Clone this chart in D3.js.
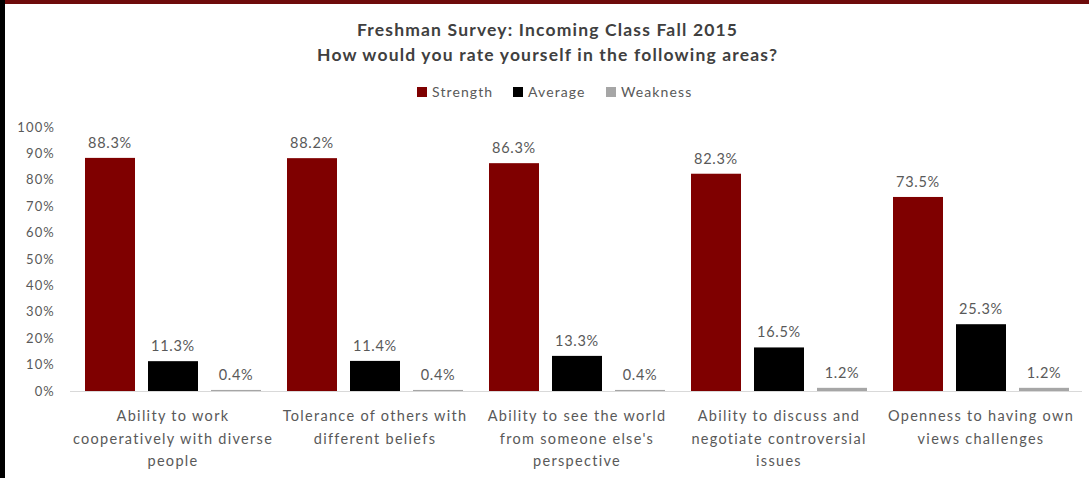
<!DOCTYPE html>
<html>
<head>
<meta charset="utf-8">
<script src="https://cdn.jsdelivr.net/npm/d3@7"></script>
<style>
  html, body { margin: 0; padding: 0; background: #ffffff; }
  svg { display: block; }
  text { font-family: Lato, "Open Sans", sans-serif; }
</style>
</head>
<body>
<svg id="chart" width="1089" height="478"></svg>
<script>
// Survey responses by area, percentage of incoming freshmen
const categories = [
  ["Ability to work", "cooperatively with diverse", "people"],
  ["Tolerance of others with", "different beliefs"],
  ["Ability to see the world", "from someone else's", "perspective"],
  ["Ability to discuss and", "negotiate controversial", "issues"],
  ["Openness to having own", "views challenges"]
];
const seriesNames = ["Strength", "Average", "Weakness"];
const strength = [88.3, 88.2, 86.3, 82.3, 73.5];
const average  = [11.3, 11.4, 13.3, 16.5, 25.3];
const weakness = [0.4, 0.4, 0.4, 1.2, 1.2];
const yTicks = [0, 10, 20, 30, 40, 50, 60, 70, 80, 90, 100];
const colors = ["#7f0000", "#000000", "#a6a6a6"];

const series = [strength, average, weakness];
const svg = d3.select("#chart");
const W = 1089, H = 478;

// frame: dark red top rule, black left rule
svg.append("rect").attr("x", 0).attr("y", 0).attr("width", W).attr("height", 4).attr("fill", "#6e0b0b");
svg.append("rect").attr("x", 0).attr("y", 0).attr("width", 5).attr("height", H).attr("fill", "#000");

// title, two lines, spread to their set widths
const titleLines = [
  { text: "Freshman Survey: Incoming Class Fall 2015", y: 36, w: 380 },
  { text: "How would you rate yourself in the following areas?", y: 61, w: 460 }
];
titleLines.forEach(l => {
  svg.append("text")
    .attr("x", 547).attr("y", l.y).attr("text-anchor", "middle")
    .attr("fill", "#404040").attr("font-size", 17.5).attr("font-weight", 700)
    .attr("textLength", l.w).attr("lengthAdjust", "spacing")
    .text(l.text);
});

// legend
const legendItems = [
  { name: seriesNames[0], x: 417 },
  { name: seriesNames[1], x: 513 },
  { name: seriesNames[2], x: 606 }
];
const lg = svg.append("g");
legendItems.forEach((d, i) => {
  lg.append("rect").attr("x", d.x).attr("y", 87).attr("width", 10).attr("height", 10).attr("fill", colors[i]);
  lg.append("text").attr("x", d.x + 15).attr("y", 97)
    .attr("font-size", 14).attr("letter-spacing", 1.1).attr("fill", "#595959").text(d.name);
});

// scales
const plotLeft = 72, plotRight = 1082;
const x0 = d3.scaleBand().domain(d3.range(categories.length)).range([plotLeft, plotRight]).paddingInner(0).paddingOuter(0);
const x1 = d3.scaleBand().domain(d3.range(seriesNames.length)).range([0, x0.bandwidth()])
  .paddingInner(13 / 63).paddingOuter(13 / 63);
const y = d3.scaleLinear().domain([0, 100]).range([391, 127]);

// y axis labels
const yAxis = d3.axisLeft(y).tickValues(yTicks).tickFormat(d => d + "%").tickSize(0).tickPadding(0);
const ya = svg.append("g").attr("transform", "translate(55,0)").call(yAxis);
ya.select(".domain").remove();
ya.selectAll("text").attr("font-size", 13).attr("fill", "#595959").attr("letter-spacing", 1.2)
  .attr("font-family", "Lato, 'Open Sans', sans-serif");

// baseline
const xAxis = d3.axisBottom(x0).tickSize(0).tickFormat("");
const xa = svg.append("g").attr("transform", `translate(0,${y(0)})`).call(xAxis);
xa.select(".domain").attr("stroke", "#d9d9d9").attr("stroke-width", 1)
  .attr("d", `M${plotLeft - 2},0.5H${plotRight}`);

// bars
const groups = svg.append("g").selectAll("g")
  .data(categories.map((c, i) => i))
  .join("g")
  .attr("transform", i => `translate(${x0(i)},0)`);

groups.selectAll("rect")
  .data(i => series.map((s, k) => ({ k, v: s[i] })))
  .join("rect")
  .attr("x", d => x1(d.k))
  .attr("width", x1.bandwidth())
  .attr("y", d => y(d.v))
  .attr("height", d => y(0) - y(d.v))
  .attr("fill", d => colors[d.k]);

// value labels
groups.selectAll("text.val")
  .data(i => series.map((s, k) => ({ k, v: s[i] })))
  .join("text")
  .attr("class", "val")
  .attr("x", d => x1(d.k) + x1.bandwidth() / 2)
  .attr("y", d => y(d.v) - 10)
  .attr("text-anchor", "middle")
  .attr("font-size", 14.5)
  .attr("letter-spacing", 0.7)
  .attr("fill", "#595959")
  .text(d => d.v.toFixed(1) + "%");

// category labels
groups.append("text")
  .attr("text-anchor", "middle")
  .attr("font-size", 14.5)
  .attr("letter-spacing", 1.3)
  .attr("fill", "#595959")
  .each(function (i) {
    const t = d3.select(this);
    categories[i].forEach((line, j) => {
      t.append("tspan").attr("x", x0.bandwidth() / 2).attr("y", 421 + j * 22.5).text(line);
    });
  });
</script>
</body>
</html>
